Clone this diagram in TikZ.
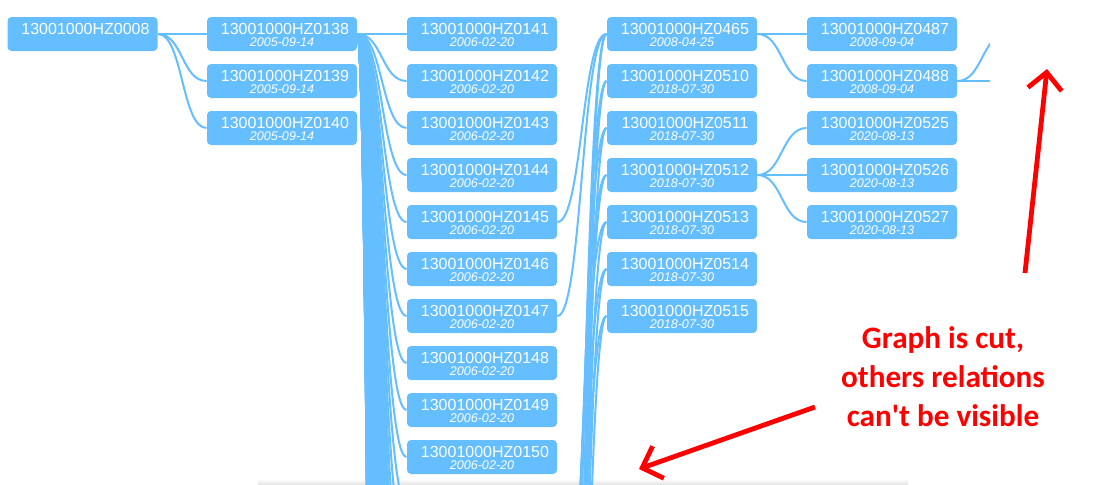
\documentclass[tikz,border=0pt]{standalone}
\usepackage{fontspec}
\setmainfont{Liberation Sans}
\newfontfamily\notefont{Carlito}
\usetikzlibrary{arrows.meta}

\definecolor{hzblue}{RGB}{100,190,255}
\definecolor{notered}{RGB}{255,0,0}

\tikzset{
  hz/.style={fill=hzblue,text=white,rounded corners=2pt,minimum width=75pt,
    minimum height=17pt,inner sep=0pt,align=center,font=\fontsize{8}{5.8}\selectfont},
  link/.style={draw=hzblue,line width=1pt},
  cutarrow/.style={draw=notered,line width=2.4pt,-{Straight Barb[length=8.5pt,width=17pt]}},
  note/.style={text=notered,align=center,anchor=base,
    font=\notefont\bfseries\fontsize{15.6}{19.5}\selectfont}
}
\newcommand{\hzid}[1]{\hspace*{3pt}\rule{0pt}{6.6pt}#1}
\newcommand{\hzdate}[1]{{\fontsize{6.3}{5.8}\selectfont\itshape #1}}

\begin{document}
\begin{tikzpicture}[x=0.5pt,y=-0.5pt]
\useasboundingbox (0,0) rectangle (1109,484);

% shadow of the cut view
\shade[top color=white,bottom color=black!10] (258,479) rectangle (908,484);

\begin{scope}
\clip (0,0) rectangle (990,484);

% column 1 and 2
\node[hz] (hz8) at (82.5,34) {\hzid{13001000HZ0008}\\\mbox{}};
\node[hz] (hz138) at (282,34) {\hzid{13001000HZ0138}\\\hzdate{2005-09-14}};
\node[hz] (hz139) at (282,81) {\hzid{13001000HZ0139}\\\hzdate{2005-09-14}};
\node[hz] (hz140) at (282,128) {\hzid{13001000HZ0140}\\\hzdate{2005-09-14}};

% column 3
\node[hz] (hz141) at (482,34) {\hzid{13001000HZ0141}\\\hzdate{2006-02-20}};
\node[hz] (hz142) at (482,81) {\hzid{13001000HZ0142}\\\hzdate{2006-02-20}};
\node[hz] (hz143) at (482,128) {\hzid{13001000HZ0143}\\\hzdate{2006-02-20}};
\node[hz] (hz144) at (482,175) {\hzid{13001000HZ0144}\\\hzdate{2006-02-20}};
\node[hz] (hz145) at (482,222) {\hzid{13001000HZ0145}\\\hzdate{2006-02-20}};
\node[hz] (hz146) at (482,269) {\hzid{13001000HZ0146}\\\hzdate{2006-02-20}};
\node[hz] (hz147) at (482,316) {\hzid{13001000HZ0147}\\\hzdate{2006-02-20}};
\node[hz] (hz148) at (482,363) {\hzid{13001000HZ0148}\\\hzdate{2006-02-20}};
\node[hz] (hz149) at (482,410) {\hzid{13001000HZ0149}\\\hzdate{2006-02-20}};
\node[hz] (hz150) at (482,457) {\hzid{13001000HZ0150}\\\hzdate{2006-02-20}};

% column 4
\node[hz] (hz465) at (682,34) {\hzid{13001000HZ0465}\\\hzdate{2008-04-25}};
\node[hz] (hz510) at (682,81) {\hzid{13001000HZ0510}\\\hzdate{2018-07-30}};
\node[hz] (hz511) at (682,128) {\hzid{13001000HZ0511}\\\hzdate{2018-07-30}};
\node[hz] (hz512) at (682,175) {\hzid{13001000HZ0512}\\\hzdate{2018-07-30}};
\node[hz] (hz513) at (682,222) {\hzid{13001000HZ0513}\\\hzdate{2018-07-30}};
\node[hz] (hz514) at (682,269) {\hzid{13001000HZ0514}\\\hzdate{2018-07-30}};
\node[hz] (hz515) at (682,316) {\hzid{13001000HZ0515}\\\hzdate{2018-07-30}};

% column 5
\node[hz] (hz487) at (882,34) {\hzid{13001000HZ0487}\\\hzdate{2008-09-04}};
\node[hz] (hz488) at (882,81) {\hzid{13001000HZ0488}\\\hzdate{2008-09-04}};
\node[hz] (hz525) at (882,128) {\hzid{13001000HZ0525}\\\hzdate{2020-08-13}};
\node[hz] (hz526) at (882,175) {\hzid{13001000HZ0526}\\\hzdate{2020-08-13}};
\node[hz] (hz527) at (882,222) {\hzid{13001000HZ0527}\\\hzdate{2020-08-13}};

% ends of links that leave the view
\foreach \k in {10,...,170}
  \coordinate (in\k) at (407,{34+47*\k});
\foreach \k in {14,...,30}
  \coordinate (out\k) at (557,{34+47*\k});
\coordinate (cut1) at (1007,34);
\coordinate (cut2) at (1007,81);

% links
\draw[link] (hz8.east) -- (hz138.west);
\foreach \c in {139,140}
  \draw[link] (hz8.east) .. controls +(25,0) and +(-25,0) .. (hz\c.west);
\draw[link] (hz138.east) -- (hz141.west);
\foreach \c in {142,...,150}
  \draw[link] (hz138.east) .. controls +(25,0) and +(-25,0) .. (hz\c.west);
\foreach \k in {10,...,170}
  \draw[link] (hz138.east) .. controls +(25,0) and +(-25,0) .. (in\k);

\foreach \p in {145,147}
  \draw[link] (hz\p.east) .. controls +(25,0) and +(-25,0) .. (hz465.west);
\foreach \p/\c in {20/465,24/465,18/510,26/510,16/511,28/511,15/512,22/512,
                   14/513,25/513,17/514,27/514,19/515,30/515}
  \draw[link] (out\p) .. controls +(25,0) and +(-25,0) .. (hz\c.west);

\draw[link] (hz465.east) -- (hz487.west);
\draw[link] (hz465.east) .. controls +(25,0) and +(-25,0) .. (hz488.west);
\draw[link] (hz512.east) -- (hz526.west);
\foreach \c in {525,527}
  \draw[link] (hz512.east) .. controls +(25,0) and +(-25,0) .. (hz\c.west);
\draw[link] (hz488.east) -- (cut2);
\draw[link] (hz488.east) .. controls +(25,0) and +(-25,0) .. (cut1);
\end{scope}

% remark
\node[note] (note) at (943,426) {Graph is cut,\\others relations\\can\textquotesingle t be visible};
\coordinate (tailA) at (1025,273);
\coordinate (tipA) at (1047,69);
\coordinate (tailB) at (815,407);
\coordinate (tipB) at (639,469);
\draw[cutarrow] (tailA) -- (tipA);
\draw[cutarrow] (tailB) -- (tipB);
\end{tikzpicture}
\end{document}
